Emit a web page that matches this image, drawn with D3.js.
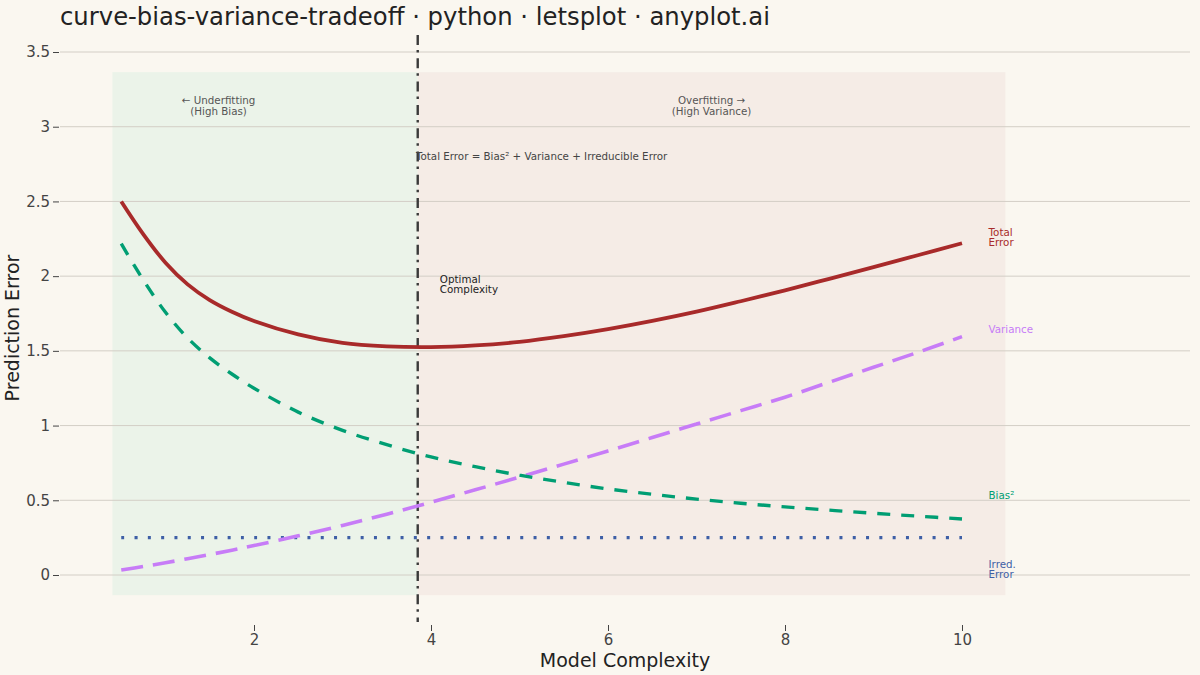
<!DOCTYPE html>
<html>
<head>
<meta charset="utf-8">
<script src="https://cdn.jsdelivr.net/npm/d3@7"></script>
<style>
  body { margin: 0; background: #FAF7F0; }
  svg { display: block; font-family: "DejaVu Sans", sans-serif; }
</style>
</head>
<body>
<div id="chart"></div>
<script>
// values
const complexity = [0.5, 0.75, 1, 1.25, 1.5, 1.75, 2, 2.5, 3, 3.5, 4, 4.5, 5, 5.5, 6, 6.5, 7, 7.5, 8, 8.5, 9, 9.5, 10];
const biasSq    = [2.217, 1.973, 1.758, 1.586, 1.453, 1.345, 1.25, 1.09, 0.968, 0.872, 0.79, 0.725, 0.668, 0.62, 0.576, 0.54, 0.508, 0.48, 0.456, 0.434, 0.413, 0.394, 0.375];
const variance  = [0.033, 0.057, 0.082, 0.109, 0.137, 0.166, 0.197, 0.262, 0.332, 0.407, 0.487, 0.57, 0.655, 0.742, 0.83, 0.92, 1.01, 1.1, 1.19, 1.29, 1.39, 1.49, 1.595];
const irreducible = [0.25, 0.25, 0.25, 0.25, 0.25, 0.25, 0.25, 0.25, 0.25, 0.25, 0.25, 0.25, 0.25, 0.25, 0.25, 0.25, 0.25, 0.25, 0.25, 0.25, 0.25, 0.25, 0.25];
const totalError = [2.50, 2.28, 2.09, 1.945, 1.84, 1.762, 1.70, 1.61, 1.553, 1.53, 1.525, 1.536, 1.56, 1.598, 1.645, 1.70, 1.762, 1.832, 1.905, 1.982, 2.06, 2.14, 2.22];
const optimalX = 3.85;
const yTicks = [0, 0.5, 1, 1.5, 2, 2.5, 3, 3.5];
const xTicks = [2, 4, 6, 8, 10];

const width = 1200, height = 675;

const svg = d3.select('#chart')
    .append('svg')
    .attr('width', width)
    .attr('height', height);

svg.append('rect')
    .attr('width', width).attr('height', height)
    .attr('fill', '#FAF7F0');

// scales
const x = d3.scaleLinear().domain([0, 10]).range([77, 962]);
const y = d3.scaleLinear().domain([0, 3.5]).range([575, 52]);
const plotLeft = 60, plotRight = 1190, plotTop = 35, plotBottom = 622;

// regions
svg.append('rect')
    .attr('x', x(0.4)).attr('y', y(3.365))
    .attr('width', x(optimalX) - x(0.4))
    .attr('height', y(-0.135) - y(3.365))
    .attr('fill', '#EBF3E9');
svg.append('rect')
    .attr('x', x(optimalX)).attr('y', y(3.365))
    .attr('width', x(10.49) - x(optimalX))
    .attr('height', y(-0.135) - y(3.365))
    .attr('fill', '#F5ECE6');

// grid
svg.append('g')
    .selectAll('line')
    .data(yTicks)
    .join('line')
    .attr('x1', plotLeft).attr('x2', plotRight)
    .attr('y1', d => y(d)).attr('y2', d => y(d))
    .attr('stroke', '#D3CEC6')
    .attr('stroke-width', 1);

// axes
const yAxis = d3.axisLeft(y).tickValues(yTicks).tickSize(6).tickPadding(3).tickFormat(d3.format('~g'));
const gy = svg.append('g')
    .attr('transform', `translate(${plotLeft - 1},0)`)
    .call(yAxis);
gy.select('.domain').remove();
gy.selectAll('line').attr('stroke', '#444');
gy.selectAll('text').attr('fill', '#444').style('font-size', '15px').style('font-family', 'DejaVu Sans');

const xAxis = d3.axisBottom(x).tickValues(xTicks).tickSize(6).tickPadding(3);
const gx = svg.append('g')
    .attr('transform', `translate(0,${plotBottom + 3})`)
    .call(xAxis);
gx.select('.domain').remove();
gx.selectAll('line').attr('stroke', '#444');
gx.selectAll('text').attr('fill', '#444').style('font-size', '15px').style('font-family', 'DejaVu Sans');

// optimal line
svg.append('line')
    .attr('x1', x(optimalX)).attr('x2', x(optimalX))
    .attr('y1', plotTop).attr('y2', plotBottom)
    .attr('stroke', '#3A3A3A')
    .attr('stroke-width', 2.4)
    .attr('stroke-dasharray', '10,5,2.5,5.8');

// curves
const line = vals => d3.line()
    .x((d, i) => x(complexity[i]))
    .y(d => y(d))
    .curve(d3.curveCatmullRom.alpha(0.5))(vals);

const series = [
    { vals: irreducible, color: '#3E5FA6', w: 3.2, dash: '3,10.3' },
    { vals: variance, color: '#C77CF7', w: 3.6, dash: '22,10' },
    { vals: biasSq, color: '#009E73', w: 3.4, dash: '13,11' },
    { vals: totalError, color: '#A82A2A', w: 3.8, dash: null }
];
svg.append('g')
    .selectAll('path')
    .data(series)
    .join('path')
    .attr('d', d => line(d.vals))
    .attr('fill', 'none')
    .attr('stroke', d => d.color)
    .attr('stroke-width', d => d.w)
    .attr('stroke-dasharray', d => d.dash);

// annotations
function label(lines, xv, yv, opts) {
    const t = svg.append('text')
        .attr('x', x(xv)).attr('y', y(yv))
        .attr('text-anchor', opts.anchor || 'start')
        .attr('fill', opts.color || '#444')
        .style('font-size', (opts.size || 10.3) + 'px');
    lines.forEach((s, i) => {
        t.append('tspan')
            .attr('x', x(xv))
            .attr('dy', i === 0 ? 0 : (opts.lh || 0.95) + 'em')
            .text(s);
    });
}
label(['← Underfitting', '(High Bias)'], 1.6, 3.15, { anchor: 'middle', color: '#555', lh: 1.05 });
label(['Overfitting →', '(High Variance)'], 7.17, 3.15, { anchor: 'middle', color: '#555', lh: 1.05 });
label(['Total Error = Bias² + Variance + Irreducible Error'], 3.83, 2.78, { color: '#444' });
label(['Optimal', 'Complexity'], 4.1, 1.955, { color: '#222' });
label(['Total', 'Error'], 10.3, 2.27, { color: '#A82A2A' });
label(['Variance'], 10.3, 1.62, { color: '#C77CF7' });
label(['Bias²'], 10.3, 0.51, { color: '#009E73' });
label(['Irred.', 'Error'], 10.3, 0.045, { color: '#3E5FA6' });

// titles
svg.append('text')
    .attr('x', 60).attr('y', 25)
    .attr('fill', '#222')
    .style('font-size', '24.3px')
    .text('curve-bias-variance-tradeoff · python · letsplot · anyplot.ai');

svg.append('text')
    .attr('x', 625).attr('y', 667)
    .attr('text-anchor', 'middle')
    .attr('fill', '#222')
    .style('font-size', '19px')
    .text('Model Complexity');

svg.append('text')
    .attr('transform', `translate(19,${328}) rotate(-90)`)
    .attr('text-anchor', 'middle')
    .attr('fill', '#222')
    .style('font-size', '19px')
    .text('Prediction Error');
</script>
</body>
</html>
